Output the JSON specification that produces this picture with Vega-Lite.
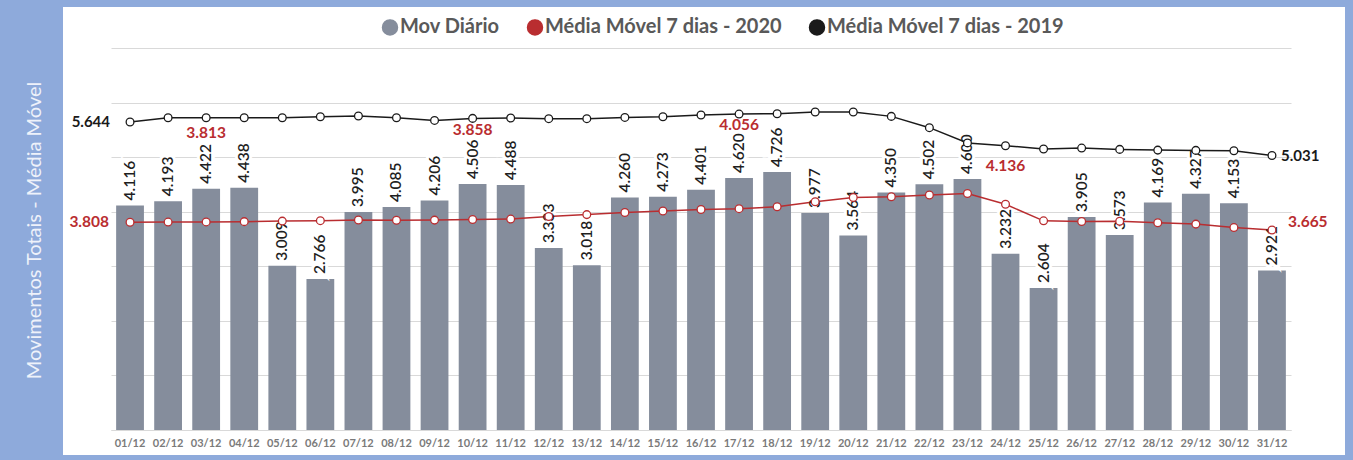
{
  "$schema": "https://vega.github.io/schema/vega-lite/v6.json",
  "width": 1282,
  "height": 448,
  "autosize": {"type": "none"},
  "padding": {"left": 63, "top": 7, "right": 8, "bottom": 5},
  "background": "#8eaadb",
  "view": {"fill": "white", "stroke": null},
  "config": {
    "font": "Lato",
    "locale": {"number": {"decimal": ",", "thousands": ".", "grouping": [3], "currency": ["R$", ""]}},
    "axisY": {
      "titleColor": "#eef2fa", "titleFont": "Lato", "titleFontSize": 20, "titleFontWeight": "normal",
      "titleAngle": 270, "titleAlign": "center", "titleBaseline": "middle", "titleX": -29, "titleY": 223,
      "labels": false, "ticks": false, "domain": false, "tickCount": 7,
      "grid": true, "gridColor": "#d9d9d9", "gridWidth": 1
    },
    "legend": {
      "orient": "none", "legendX": 317, "legendY": 10, "direction": "horizontal", "title": null,
      "padding": 0, "labelLimit": 400,
      "labelFont": "Lato", "labelFontSize": 20, "labelFontWeight": "bold", "labelColor": "#595959",
      "symbolSize": 230, "symbolStrokeWidth": 1.3, "columnPadding": 24, "labelOffset": 0
    }
  },
  "data": {
    "values": [
      {"dia": "01/12", "mov": 4116, "mm2020": 3808, "mm2019": 5644},
      {"dia": "02/12", "mov": 4193, "mm2020": 3810, "mm2019": 5723},
      {"dia": "03/12", "mov": 4422, "mm2020": 3813, "mm2019": 5723},
      {"dia": "04/12", "mov": 4438, "mm2020": 3818, "mm2019": 5723},
      {"dia": "05/12", "mov": 3009, "mm2020": 3828, "mm2019": 5723},
      {"dia": "06/12", "mov": 2766, "mm2020": 3836, "mm2019": 5741},
      {"dia": "07/12", "mov": 3995, "mm2020": 3848, "mm2019": 5753},
      {"dia": "08/12", "mov": 4085, "mm2020": 3844, "mm2019": 5723},
      {"dia": "09/12", "mov": 4206, "mm2020": 3846, "mm2019": 5673},
      {"dia": "10/12", "mov": 4506, "mm2020": 3858, "mm2019": 5710},
      {"dia": "11/12", "mov": 4488, "mm2020": 3865, "mm2019": 5716},
      {"dia": "12/12", "mov": 3333, "mm2020": 3911, "mm2019": 5705},
      {"dia": "13/12", "mov": 3018, "mm2020": 3947, "mm2019": 5705},
      {"dia": "14/12", "mov": 4260, "mm2020": 3985, "mm2019": 5728},
      {"dia": "15/12", "mov": 4273, "mm2020": 4012, "mm2019": 5741},
      {"dia": "16/12", "mov": 4401, "mm2020": 4040, "mm2019": 5771},
      {"dia": "17/12", "mov": 4620, "mm2020": 4056, "mm2019": 5789},
      {"dia": "18/12", "mov": 4726, "mm2020": 4090, "mm2019": 5796},
      {"dia": "19/12", "mov": 3977, "mm2020": 4182, "mm2019": 5826},
      {"dia": "20/12", "mov": 3564, "mm2020": 4260, "mm2019": 5826},
      {"dia": "21/12", "mov": 4350, "mm2020": 4273, "mm2019": 5747},
      {"dia": "22/12", "mov": 4502, "mm2020": 4306, "mm2019": 5540},
      {"dia": "23/12", "mov": 4600, "mm2020": 4334, "mm2019": 5261},
      {"dia": "24/12", "mov": 3232, "mm2020": 4136, "mm2019": 5210},
      {"dia": "25/12", "mov": 2604, "mm2020": 3833, "mm2019": 5148},
      {"dia": "26/12", "mov": 3905, "mm2020": 3822, "mm2019": 5166},
      {"dia": "27/12", "mov": 3573, "mm2020": 3824, "mm2019": 5142},
      {"dia": "28/12", "mov": 4169, "mm2020": 3798, "mm2019": 5129},
      {"dia": "29/12", "mov": 4327, "mm2020": 3773, "mm2019": 5124},
      {"dia": "30/12", "mov": 4153, "mm2020": 3709, "mm2019": 5118},
      {"dia": "31/12", "mov": 2921, "mm2020": 3665, "mm2019": 5031}
    ]
  },
  "encoding": {
    "x": {
      "field": "dia", "type": "ordinal", "sort": null,
      "scale": {"range": [48, 1228], "paddingInner": 0.27, "paddingOuter": 0.135},
      "axis": {
        "title": null, "labelAngle": 0, "ticks": false, "grid": false,
        "domain": true, "domainColor": "#d9d9d9", "domainWidth": 1,
        "labelFont": "Lato", "labelFontSize": 11, "labelFontWeight": "bold", "labelColor": "#7a7a7a",
        "labelPadding": 7, "offset": -25
      }
    }
  },
  "layer": [
    {
      "mark": {"type": "bar", "color": "#858d9c"},
      "encoding": {
        "y": {"field": "mov", "type": "quantitative", "title": "Movimentos Totais - Média Móvel",
          "scale": {"domain": [0, 7000], "range": [423, 41], "nice": false}},
        "color": {
          "datum": "Mov Diário", "type": "nominal",
          "scale": {
            "domain": ["Mov Diário", "Média Móvel 7 dias - 2020", "Média Móvel 7 dias - 2019"],
            "range": ["#858d9c", "#b92d30", "#1a1a1a"]
          },
          "legend": {"encoding": {"symbols": {"strokeWidth": {"value": 1.3}, "opacity": {"value": 1}}}}
        }
      }
    },
    {
      "mark": {"type": "text", "angle": 270, "align": "left", "baseline": "middle", "dx": 5, "fontSize": 15.5, "fontWeight": 600, "font": "Lato", "fill": "white", "stroke": "white", "strokeWidth": 6},
      "encoding": {
        "y": {"field": "mov", "type": "quantitative", "title": "Movimentos Totais - Média Móvel", "scale": {"domain": [0, 7000], "range": [423, 41], "nice": false}},
        "text": {"field": "mov", "type": "quantitative", "format": ",.0f"}
      }
    },
    {
      "mark": {"type": "line", "strokeWidth": 1.5},
      "encoding": {
        "y": {"field": "mm2020", "type": "quantitative", "title": "Movimentos Totais - Média Móvel", "scale": {"domain": [0, 7000], "range": [423, 41], "nice": false}},
        "color": {"datum": "Média Móvel 7 dias - 2020", "type": "nominal",
          "legend": {"encoding": {"symbols": {"strokeWidth": {"value": 1.3}, "opacity": {"value": 1}}}}}
      }
    },
    {
      "mark": {"type": "line", "strokeWidth": 1.5},
      "encoding": {
        "y": {"field": "mm2019", "type": "quantitative", "title": "Movimentos Totais - Média Móvel", "scale": {"domain": [0, 7000], "range": [423, 41], "nice": false}},
        "color": {"datum": "Média Móvel 7 dias - 2019", "type": "nominal",
          "legend": {"encoding": {"symbols": {"strokeWidth": {"value": 1.3}, "opacity": {"value": 1}}}}}
      }
    },
    {
      "mark": {"type": "text", "angle": 270, "align": "left", "baseline": "middle", "dx": 5, "fontSize": 15.5, "fontWeight": 600, "font": "Lato", "color": "#1f1f1f"},
      "encoding": {
        "y": {"field": "mov", "type": "quantitative", "title": "Movimentos Totais - Média Móvel", "scale": {"domain": [0, 7000], "range": [423, 41], "nice": false}},
        "text": {"field": "mov", "type": "quantitative", "format": ",.0f"}
      }
    },
    {
      "mark": {"type": "point", "filled": false, "fill": "white", "size": 60, "strokeWidth": 1.3, "opacity": 1},
      "encoding": {
        "y": {"field": "mm2020", "type": "quantitative", "title": "Movimentos Totais - Média Móvel", "scale": {"domain": [0, 7000], "range": [423, 41], "nice": false}},
        "color": {"datum": "Média Móvel 7 dias - 2020", "type": "nominal",
          "legend": {"encoding": {"symbols": {"strokeWidth": {"value": 1.3}, "opacity": {"value": 1}}}}}
      }
    },
    {
      "mark": {"type": "point", "filled": false, "fill": "white", "size": 60, "strokeWidth": 1.3, "opacity": 1},
      "encoding": {
        "y": {"field": "mm2019", "type": "quantitative", "title": "Movimentos Totais - Média Móvel", "scale": {"domain": [0, 7000], "range": [423, 41], "nice": false}},
        "color": {"datum": "Média Móvel 7 dias - 2019", "type": "nominal",
          "legend": {"encoding": {"symbols": {"strokeWidth": {"value": 1.3}, "opacity": {"value": 1}}}}}
      }
    },
    {
      "transform": [{"filter": "datum.dia === '01/12'"}],
      "mark": {"type": "text", "align": "right", "baseline": "middle", "dx": -21, "fontSize": 15.5, "fontWeight": "bold", "font": "Lato", "color": "#b92d30"},
      "encoding": {
        "y": {"field": "mm2020", "type": "quantitative", "title": "Movimentos Totais - Média Móvel", "scale": {"domain": [0, 7000], "range": [423, 41], "nice": false}},
        "text": {"field": "mm2020", "type": "quantitative", "format": ",.0f"}
      }
    },
    {
      "transform": [{"filter": "datum.dia === '03/12' || datum.dia === '10/12'"}],
      "mark": {"type": "text", "align": "center", "baseline": "middle", "dy": -89, "fontSize": 15.5, "fontWeight": "bold", "font": "Lato", "color": "#b92d30"},
      "encoding": {
        "y": {"field": "mm2020", "type": "quantitative", "title": "Movimentos Totais - Média Móvel", "scale": {"domain": [0, 7000], "range": [423, 41], "nice": false}},
        "text": {"field": "mm2020", "type": "quantitative", "format": ",.0f"}
      }
    },
    {
      "transform": [{"filter": "datum.dia === '17/12'"}],
      "mark": {"type": "text", "align": "center", "baseline": "middle", "dy": -84, "fontSize": 15.5, "fontWeight": "bold", "font": "Lato", "color": "#b92d30"},
      "encoding": {
        "y": {"field": "mm2020", "type": "quantitative", "title": "Movimentos Totais - Média Móvel", "scale": {"domain": [0, 7000], "range": [423, 41], "nice": false}},
        "text": {"field": "mm2020", "type": "quantitative", "format": ",.0f"}
      }
    },
    {
      "transform": [{"filter": "datum.dia === '24/12'"}],
      "mark": {"type": "text", "align": "center", "baseline": "middle", "dy": -38, "fontSize": 15.5, "fontWeight": "bold", "font": "Lato", "color": "#b92d30"},
      "encoding": {
        "y": {"field": "mm2020", "type": "quantitative", "title": "Movimentos Totais - Média Móvel", "scale": {"domain": [0, 7000], "range": [423, 41], "nice": false}},
        "text": {"field": "mm2020", "type": "quantitative", "format": ",.0f"}
      }
    },
    {
      "transform": [{"filter": "datum.dia === '31/12'"}],
      "mark": {"type": "text", "align": "left", "baseline": "middle", "dx": 16, "dy": -8, "fontSize": 15.5, "fontWeight": "bold", "font": "Lato", "color": "#b92d30"},
      "encoding": {
        "y": {"field": "mm2020", "type": "quantitative", "title": "Movimentos Totais - Média Móvel", "scale": {"domain": [0, 7000], "range": [423, 41], "nice": false}},
        "text": {"field": "mm2020", "type": "quantitative", "format": ",.0f"}
      }
    },
    {
      "transform": [{"filter": "datum.dia === '01/12'"}],
      "mark": {"type": "text", "align": "right", "baseline": "middle", "dx": -20, "fontSize": 15, "fontWeight": "bold", "font": "Lato", "color": "#1a1a1a"},
      "encoding": {
        "y": {"field": "mm2019", "type": "quantitative", "title": "Movimentos Totais - Média Móvel", "scale": {"domain": [0, 7000], "range": [423, 41], "nice": false}},
        "text": {"field": "mm2019", "type": "quantitative", "format": ",.0f"}
      }
    },
    {
      "transform": [{"filter": "datum.dia === '31/12'"}],
      "mark": {"type": "text", "align": "left", "baseline": "middle", "dx": 9, "dy": 1, "fontSize": 15, "fontWeight": "bold", "font": "Lato", "color": "#1a1a1a"},
      "encoding": {
        "y": {"field": "mm2019", "type": "quantitative", "title": "Movimentos Totais - Média Móvel", "scale": {"domain": [0, 7000], "range": [423, 41], "nice": false}},
        "text": {"field": "mm2019", "type": "quantitative", "format": ",.0f"}
      }
    }
  ]
}
